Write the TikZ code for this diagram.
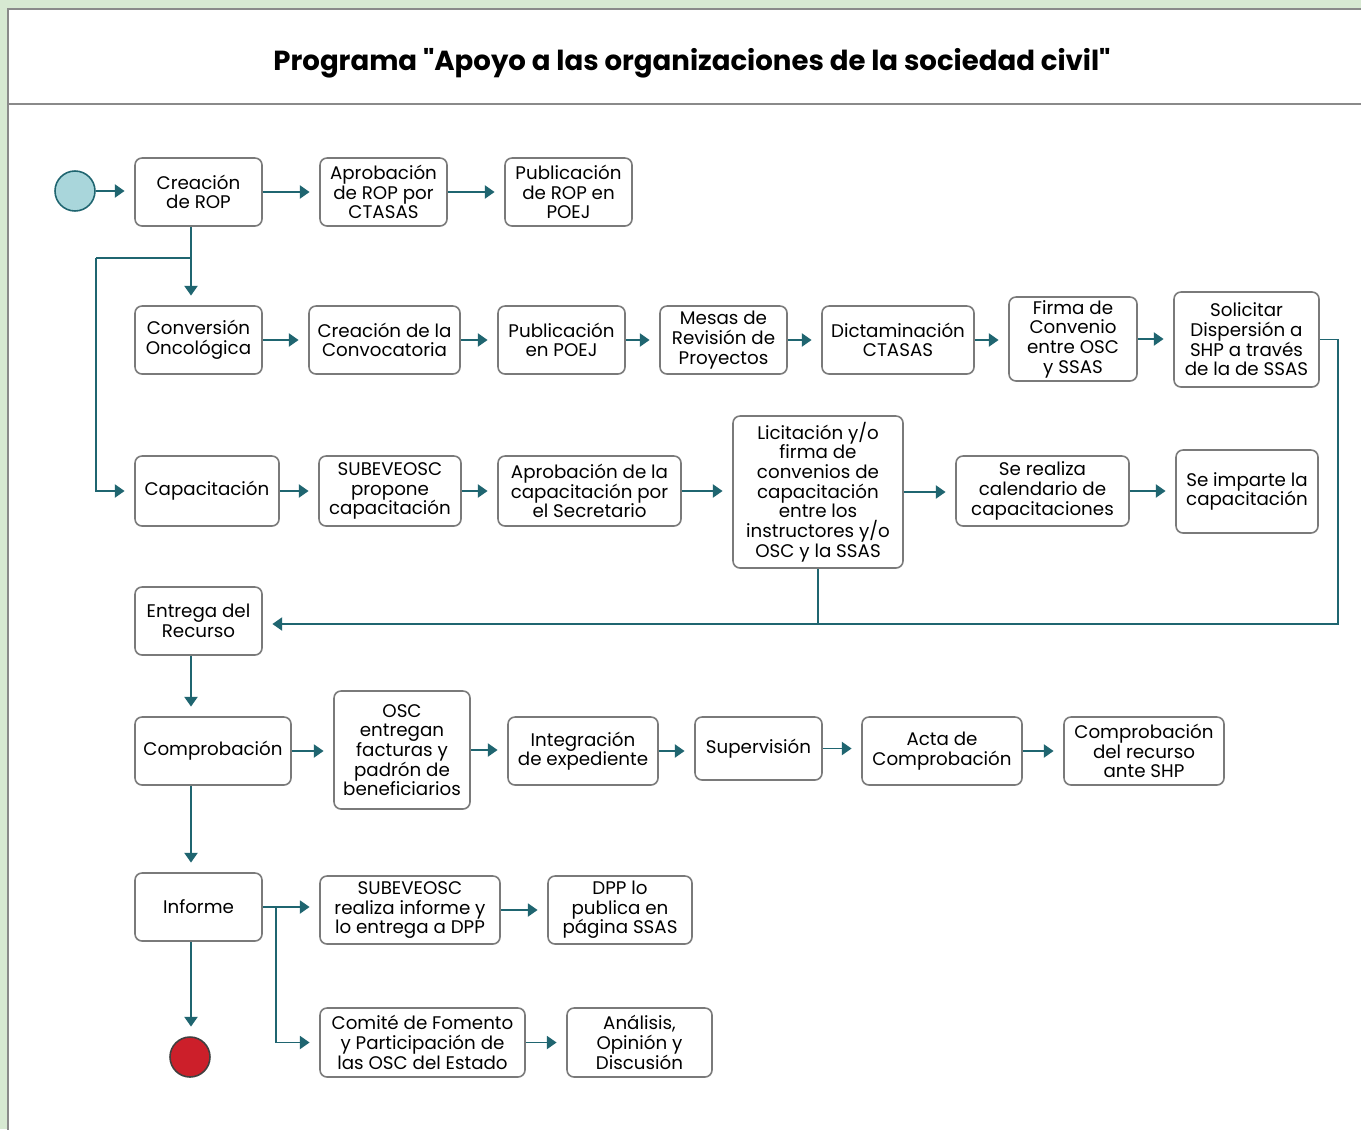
\documentclass[tikz,border=0pt]{standalone}
\usepackage{fontspec}
\setmainfont{Poppins}
\newfontfamily\titlefont{Poppins}[Ligatures=TeXOff]
\usetikzlibrary{arrows.meta,calc}

\definecolor{bggreen}{HTML}{D7E9D2}
\definecolor{panelgray}{HTML}{8A8A8A}
\definecolor{boxgray}{HTML}{7A7A7A}
\definecolor{flowteal}{HTML}{1F6570}
\definecolor{startfill}{HTML}{A9D6DB}
\definecolor{endred}{HTML}{CC1F2A}

\tikzset{
  wh/.style 2 args={minimum width=#1*0.02cm, minimum height=#2*0.02cm},
  box/.style={draw=boxgray, line width=0.9pt, rounded corners=4pt, fill=white,
    align=center, inner sep=1pt, font=\fontsize{10.4}{11.2}\selectfont},
  link/.style={draw=flowteal, line width=0.8pt},
  arr/.style={link, -{Triangle[length=5.5pt,width=7.5pt]}, shorten >=5.5pt},
}

\begin{document}
\begin{tikzpicture}[x=0.02cm, y=-0.02cm]
  \useasboundingbox (0,0) rectangle (1361,1129);
  \fill[bggreen] (0,0) rectangle (1361,1129);
  \filldraw[fill=white, draw=panelgray, line width=1pt] (8,1140) -- (8,9) -- (1370,9) -- (1370,1140) -- cycle;
  \draw[panelgray, line width=1pt] (8,104) -- (1370,104);

  \node[font=\titlefont\fontsize{15.7}{16}\selectfont\bfseries] (title) at (692,63)
    {Programa "Apoyo a las organizaciones de la sociedad civil"};

  % start / end
  \node[circle, draw=flowteal, line width=0.9pt, fill=startfill, minimum size=0.8cm, inner sep=0] (start) at (75,191) {};
  \node[circle, draw=black!75, line width=0.9pt, fill=endred, minimum size=0.8cm, inner sep=0] (fin) at (190,1057) {};

  % row 1
  \node[box, wh={127}{68}] (crea)  at (198.5,192) {Creación\\de ROP};
  \node[box, wh={127}{68}] (aprob) at (383.5,192) {Aprobación\\de ROP por\\CTASAS};
  \node[box, wh={127}{68}] (publ)  at (568.5,192) {Publicación\\de ROP en\\POEJ};

  % row 2
  \node[box, wh={127}{68}] (conv)  at (198.5,340) {Conversión\\Oncológica};
  \node[box, wh={151}{68}] (convo) at (384.5,340) {Creación de la\\Convocatoria};
  \node[box, wh={127}{68}] (publp) at (561.5,340) {Publicación\\en POEJ};
  \node[box, wh={127}{68}] (mesas) at (723.5,340) {Mesas de\\Revisión de\\Proyectos};
  \node[box, wh={152}{68}] (dict)  at (898,340) {Dictaminación\\CTASAS};
  \node[box, wh={128}{84}] (firma) at (1073,339) {Firma de\\Convenio\\entre OSC\\y SSAS};
  \node[box, wh={145}{95}] (solic) at (1246.5,339.5) {Solicitar\\Dispersión a\\SHP a través\\de la de SSAS};

  % row 3
  \node[box, wh={144}{70}] (capa)   at (207,491) {Capacitación};
  \node[box, wh={142}{70}] (subp)   at (390,491) {SUBEVEOSC\\propone\\capacitación};
  \node[box, wh={183}{70}] (aprobc) at (589.5,491) {Aprobación de la\\capacitación por\\el Secretario};
  \node[box, wh={170}{152}] (licit) at (818,492) {Licitación y/o\\firma de\\convenios de\\capacitación\\entre los\\instructores y/o\\OSC y la SSAS};
  \node[box, wh={173}{70}] (calend) at (1042.5,491) {Se realiza\\calendario de\\capacitaciones};
  \node[box, wh={142}{83}] (impart) at (1247,491.5) {Se imparte la\\capacitación};

  % row 4
  \node[box, wh={127}{68}] (entrega) at (198.5,621) {Entrega del\\Recurso};

  % row 5
  \node[box, wh={156}{68}] (compro) at (213,751) {Comprobación};
  \node[box, wh={136}{118}] (osc)   at (402,750) {OSC\\entregan\\facturas y\\padrón de\\beneficiarios};
  \node[box, wh={150}{68}] (integ)  at (583,751) {Integración\\de expediente};
  \node[box, wh={127}{63}] (superv) at (758.5,748.5) {Supervisión};
  \node[box, wh={160}{68}] (acta)   at (942,751) {Acta de\\Comprobación};
  \node[box, wh={160}{68}] (compsh) at (1144,751) {Comprobación\\del recurso\\ante SHP};

  % row 6
  \node[box, wh={127}{68}] (inform) at (198.5,907) {Informe};
  \node[box, wh={180}{68}] (subinf) at (410,910) {SUBEVEOSC\\realiza informe y\\lo entrega a DPP};
  \node[box, wh={144}{68}] (dpp)    at (620,910) {DPP lo\\publica en\\página SSAS};
  \node[box, wh={205}{69}] (comite) at (422.5,1042.5) {Comité de Fomento\\y Participación de\\las OSC del Estado};
  \node[box, wh={145}{69}] (analis) at (639.5,1042.5) {Análisis,\\Opinión y\\Discusión};

  % horizontal flow
  \foreach \a/\b in {start/crea, crea/aprob, aprob/publ,
      conv/convo, convo/publp, publp/mesas, mesas/dict, dict/firma, firma/solic,
      capa/subp, subp/aprobc, aprobc/licit, licit/calend, calend/impart,
      compro/osc, osc/integ, integ/superv, superv/acta, acta/compsh,
      subinf/dpp, comite/analis}
    \draw[arr] (\a.east) -- (\a.east -| \b.west);

  % vertical flow, all on one column
  \coordinate (col) at (191,0);
  \draw[arr] (crea.south -| col) -- (conv.north -| col);
  \draw[arr] (entrega.south -| col) -- (compro.north -| col);
  \draw[arr] (compro.south -| col) -- (inform.north -| col);
  \draw[arr] (inform.south -| col) -- (fin.north -| col);

  % branch to Capacitación
  \coordinate (splitA) at (191,258);
  \coordinate (leftA) at (96,258);
  \draw[link] (splitA) -- (leftA);
  \draw[arr] (leftA) |- (capa.west);

  % return to Entrega del Recurso
  \coordinate (retR) at (1338,624);
  \draw[arr] (solic.east) -| (retR) -- (retR -| entrega.east);
  \draw[link] (licit.south) -- (licit.south |- retR);

  % Informe branches
  \coordinate (splitI) at (276,907);
  \draw[link] (inform.east) -- (splitI);
  \draw[arr] (splitI) -- (splitI -| subinf.west);
  \draw[arr] (splitI) |- (comite.west);
\end{tikzpicture}
\end{document}
